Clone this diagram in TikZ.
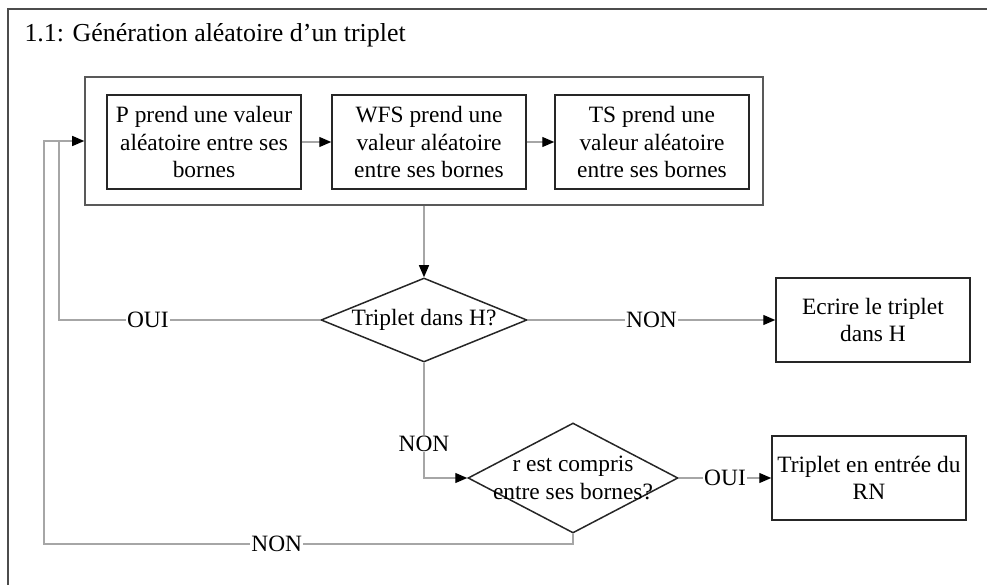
\documentclass[tikz,border=0pt]{standalone}
\usepackage{fontspec}
\setmainfont{Liberation Serif}
\usetikzlibrary{arrows.meta,positioning,shapes.geometric}

\tikzset{
  txt/.style={font=\fontsize{23.5}{27.5}\selectfont},
  stepbox/.style={draw=black!85, line width=1.5bp, align=center, txt, inner sep=0pt,
    minimum width=194bp, minimum height=94bp},
  decision/.style={diamond, draw=black!85, line width=1.5bp, inner sep=0pt,
    minimum width=206bp, minimum height=84bp},
  link/.style={draw=black!35, line width=1.2bp},
  flow/.style={link, -{Triangle[length=12bp,width=10bp,color=black]}},
  lbl/.style={txt, fill=white, inner sep=1bp},
}

\begin{document}
\begin{tikzpicture}[x=1bp, y=-1bp]
  \useasboundingbox (0,0) rectangle (987,585);
  \clip (0,0) rectangle (987,585);

  % Outer frame and title
  \draw[black!70, line width=1.5bp] (8,9) rectangle (995,595);
  \node[font=\fontsize{26}{30}\selectfont, anchor=base west] (title) at (21,42) {1.1: Génération aléatoire d’un triplet};

  % Random draw of the three values
  \node[draw=black!65, line width=1.5bp, minimum width=678bp, minimum height=128bp] (frame) at (424,141) {};
  \node[stepbox] (P) at (204,142) {P prend une valeur\\aléatoire entre ses\\bornes};
  \node[stepbox] (WFS) at (429,142) {WFS prend une\\valeur aléatoire\\entre ses bornes};
  \node[stepbox] (TS) at (652,142) {TS prend une\\valeur aléatoire\\entre ses bornes};

  % Tests
  \node[decision, label={[txt]center:Triplet dans H?}] (test) at (424,320) {};
  \node[decision, minimum width=210bp, minimum height=110bp,
    label={[txt,align=center]center:{r est compris\\entre ses bornes?}}] (range) at (573,478) {};

  % Outputs
  \node[stepbox, minimum height=84bp] (write) at (873,320) {Ecrire le triplet\\dans H};
  \node[stepbox, minimum height=84bp] (rn) at (869,478) {Triplet en entrée du\\RN};

  % Connectors
  \coordinate (join) at (59,141);
  \coordinate (outer) at (44,544);
  \draw[flow] (P) -- (WFS);
  \draw[flow] (WFS) -- (TS);
  \draw[flow] (frame.south) -- (test.north);
  \draw[flow] (test.east) -- node[lbl]{NON} (write.west);
  \draw[flow] (test.west) -- node[lbl, pos=0.66]{OUI} (join |- test.west) -- (join) -- (frame.west);
  \draw[flow] (test.south) -- node[lbl, pos=0.7]{NON} (test.south |- range.west) -- (range.west);
  \draw[flow] (range.east) -- node[lbl]{OUI} (rn.west);
  \draw[link] (range.south) -- (range.south |- outer) -- node[lbl, pos=0.56]{NON} (outer) -- (outer |- join) -- (join);
\end{tikzpicture}
\end{document}
